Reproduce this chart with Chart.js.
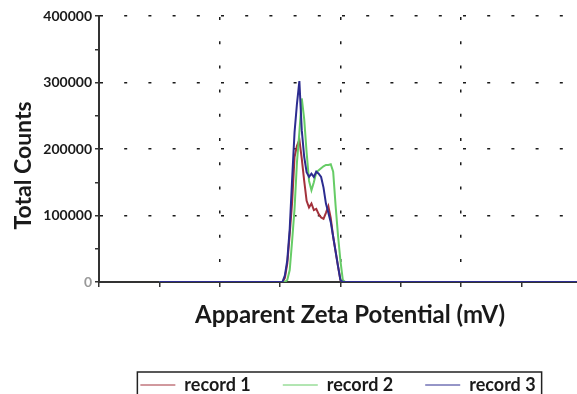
<!DOCTYPE html>
<html><head><meta charset="utf-8">
<script src="https://cdn.jsdelivr.net/npm/chart.js@4"></script>
<style>
html,body{margin:0;padding:0;background:#fff;overflow:hidden;width:577px;height:394px;}
#wrap{width:577px;height:404px;}
canvas{display:block;}
</style></head><body>
<div id="wrap"><canvas id="c" width="577" height="404"></canvas></div>
<script>
// Apparent zeta potential (mV) sample positions
const zetaPotential = [-150, -50, -48, -46, -44, -42, -40, -38, -36, -34, -32, -30, -28, -26, -24, -22, -20, -18, -16, -14, -12, -10, -8, -6, -4, -2, 0, 2, 4, 6, 200];
// Total counts (thousands) per record
const record1 = [0, 0, 0, 6, 28, 72, 120, 188, 205, 214, 185, 152, 122, 112, 118, 108, 110, 102, 97, 95, 104, 114, 96, 68, 46, 24, 3, 0, 0, 0, 0];
const record2 = [0, 0, 0, 0, 3, 18, 62, 110, 180, 225, 276, 245, 195, 152, 138, 150, 165, 168, 171, 174, 176, 176, 177, 166, 115, 70, 32, 3, 0, 0, 0];
const record3 = [0, 0, 0, 10, 33, 80, 155, 225, 268, 302, 228, 188, 165, 158, 163, 158, 166, 163, 158, 142, 118, 104, 90, 68, 46, 24, 3, 0, 0, 0, 0];
const seriesNames = ['record 1', 'record 2', 'record 3'];
const countTickLabels = [0, 100000, 200000, 300000, 400000];
const xAxisTitle = 'Apparent Zeta Potential (mV)';
const yAxisTitle = 'Total Counts';

const toPoints = arr => zetaPotential.map((x, i) => ({x: x, y: arr[i] * 1000}));

const legendBorder = {
  id: 'legendBorder',
  afterDraw(chart) {
    const lg = chart.legend;
    if (!lg || !lg.legendHitBoxes || !lg.legendHitBoxes.length) return;
    const hb = lg.legendHitBoxes;
    const left = Math.min(...hb.map(h => h.left)) - 3;
    const right = Math.max(...hb.map(h => h.left + h.width)) + 6;
    const top = hb[0].top - 4;
    const bottom = hb[0].top + hb[0].height + 4;
    const ctx = chart.ctx;
    ctx.save();
    ctx.strokeStyle = '#222';
    ctx.lineWidth = 1.5;
    ctx.strokeRect(left, top, right - left, bottom - top);
    ctx.restore();
  }
};

const axisTitles = {
  id: 'axisTitles',
  afterDraw(chart) {
    const {ctx, chartArea} = chart;
    ctx.save();
    ctx.fillStyle = '#1a1a1a';
    ctx.font = 'bold 24px Lato';
    ctx.textAlign = 'center';
    ctx.textBaseline = 'middle';
    const xTitleY = chartArea.bottom + 33;
    ctx.fillText(xAxisTitle, (chartArea.left + chartArea.right) / 2 + 12, xTitleY);
    ctx.font = 'bold 23px Lato';
    ctx.translate(24, (chartArea.top + xTitleY) / 2);
    ctx.rotate(-Math.PI / 2);
    ctx.fillText(yAxisTitle, 0, 0);
    ctx.restore();
  }
};

function draw() {
  new Chart(document.getElementById('c'), {
    type: 'line',
    data: {
      datasets: [
        {label: seriesNames[0], data: toPoints(record1), borderColor: '#a3323c', backgroundColor: '#a3323c', order: 2},
        {label: seriesNames[1], data: toPoints(record2), borderColor: '#66cc66', backgroundColor: '#66cc66', order: 1},
        {label: seriesNames[2], data: toPoints(record3), borderColor: '#2c2c90', backgroundColor: '#2c2c90', order: 0}
      ]
    },
    options: {
      responsive: false,
      animation: false,
      layout: {padding: {top: 16, right: 0, bottom: 0, left: 0}},
      elements: {point: {radius: 0}, line: {borderWidth: 2, tension: 0}},
      scales: {
        x: {
          type: 'linear', min: -200, max: 196,
          ticks: {display: false, stepSize: 50, includeBounds: false},
          grid: {
            color: c => (c.index % 2 === 0 && c.index > 0) ? '#1a1a1a' : 'rgba(0,0,0,0)',
            lineWidth: 1.5,
            tickColor: '#333', tickLength: 5, tickWidth: 1.5, tickBorderDash: []
          },
          border: {color: '#333', width: 2, dash: [3, 21.2], dashOffset: 23.2},
          afterFit: s => { s.height = 62; }
        },
        y: {
          min: 0, max: 400000,
          ticks: {
            stepSize: 50000,
            callback: v => countTickLabels.includes(v) ? String(v) : '',
            font: {family: 'Lato', weight: 'bold', size: 14},
            color: c => c.tick && c.tick.value === 0 ? '#999' : '#1a1a1a',
            padding: 3
          },
          grid: {
            color: c => (c.tick && c.tick.value > 0 && c.tick.value % 100000 === 0) ? '#1a1a1a' : 'rgba(0,0,0,0)',
            lineWidth: 1.5,
            tickColor: '#333', tickLength: 4, tickWidth: 1.5, tickBorderDash: []
          },
          border: {color: '#333', width: 2, dash: [3, 21.2], dashOffset: 0},
          afterFit: s => { s.width = 99; }
        }
      },
      plugins: {
        legend: {
          position: 'bottom', fullSize: false,
          labels: {
            usePointStyle: true, pointStyle: 'line', pointStyleWidth: 35, padding: 32,
            font: {family: 'Lato', weight: 'bold', size: 18}, color: '#1a1a1a',
            sort: (a, b) => a.datasetIndex - b.datasetIndex
          }
        },
        tooltip: {enabled: false}
      }
    },
    plugins: [legendBorder, axisTitles]
  });
}
Promise.all([
  document.fonts.load('bold 18px Lato'),
  document.fonts.load('bold 24px Lato')
]).then(draw, draw);
</script>
</body></html>
